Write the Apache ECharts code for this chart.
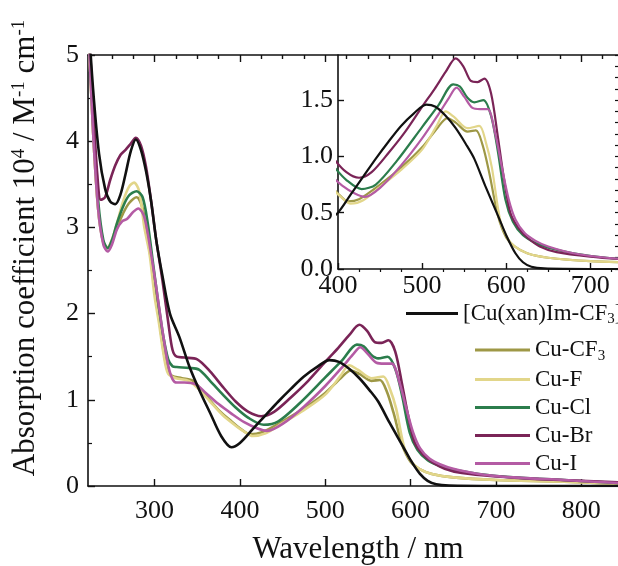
<!DOCTYPE html>
<html>
<head>
<meta charset="utf-8">
<script src="https://cdn.jsdelivr.net/npm/echarts@6/dist/echarts.min.js"></script>
<style>
  html, body { margin: 0; padding: 0; background: #fff; }
  #main { width: 618px; height: 566px; }
</style>
</head>
<body>
<div id="main"></div>
<script>
// wavelengths (nm) and absorption coefficients (10^4 M^-1 cm^-1)
var wlBlack = [222,228,235,242,248,254,260,266,272,278,284,290,296,302,309,318,329,341,353,365,378,390,400,415,430,445,460,475,490,505,516,528,540,552,562,575,591,600,611,620,630,645,700,850];
var abBlack = [5.5,4.6,3.85,3.45,3.3,3.27,3.38,3.62,3.88,4.02,3.9,3.65,3.3,2.85,2.45,2.0,1.73,1.38,1.1,0.85,0.58,0.45,0.5,0.66,0.82,0.98,1.13,1.27,1.38,1.46,1.44,1.36,1.25,1.11,0.98,0.74,0.46,0.3,0.14,0.06,0.02,0.005,0,0];

var wlCF3 = [222,228,234,240,245,250,256,263,270,279,286,292,298,304,310,315,320,332,345,360,375,390,400,412,425,450,475,500,518,530,540,554,564,572,580,590,600,610,625,650,700,780,850];
var abCF3 = [5.4,4.1,3.2,2.82,2.76,2.84,3.0,3.16,3.28,3.35,3.22,2.85,2.5,2.05,1.6,1.35,1.28,1.25,1.22,1.05,0.88,0.75,0.67,0.6,0.62,0.75,0.9,1.08,1.25,1.34,1.3,1.22,1.23,1.1,0.85,0.48,0.28,0.2,0.14,0.1,0.07,0.05,0.02];

var wlF = [222,228,234,240,245,250,256,263,270,276,282,288,294,300,305,311,316,325,340,352,365,380,395,405,415,430,450,475,500,518,528,538,554,568,576,583,593,602,610,625,650,700,780,850];
var abF = [5.4,4.1,3.2,2.82,2.77,2.86,3.05,3.3,3.47,3.52,3.42,3.0,2.7,2.2,1.9,1.5,1.3,1.25,1.22,1.12,0.98,0.82,0.7,0.63,0.58,0.61,0.73,0.88,1.06,1.28,1.4,1.35,1.25,1.27,1.12,0.9,0.43,0.27,0.2,0.14,0.1,0.07,0.05,0.02];

var wlCl = [222,228,234,240,245,250,256,263,270,279,286,292,298,304,310,316,321,326,340,352,365,380,395,410,428,445,470,500,520,537,545,554,562,573,582,590,599,608,620,635,650,680,720,780,850];
var abCl = [5.5,4.2,3.3,2.85,2.76,2.85,3.05,3.24,3.37,3.42,3.35,3.05,2.6,2.15,1.75,1.47,1.39,1.38,1.37,1.35,1.22,1.06,0.91,0.79,0.71,0.75,0.96,1.26,1.46,1.64,1.62,1.52,1.48,1.5,1.36,1.05,0.62,0.42,0.3,0.23,0.19,0.14,0.1,0.07,0.03];

var wlBr = [222,228,233,237,242,248,254,260,266,272,278,284,290,296,302,309,316,321,326,335,350,365,380,395,410,425,440,460,480,500,515,528,540,549,558,566,574,582,590,597,605,615,625,640,660,700,750,800,850];
var abBr = [5.5,4.4,3.6,3.32,3.35,3.55,3.72,3.84,3.9,3.97,4.04,3.95,3.7,3.3,2.85,2.4,1.9,1.58,1.5,1.49,1.47,1.33,1.15,0.98,0.86,0.81,0.86,1.03,1.22,1.44,1.6,1.75,1.87,1.8,1.67,1.66,1.69,1.56,1.18,0.82,0.5,0.36,0.28,0.2,0.15,0.11,0.08,0.06,0.04];

var wlI = [222,228,234,240,245,250,256,262,268,275,281,288,295,302,309,316,321,326,335,348,360,375,390,405,420,432,450,475,500,520,532,541,550,560,569,578,587,595,603,611,622,635,650,680,720,780,850];
var abI = [5.4,4.1,3.2,2.8,2.72,2.8,2.98,3.07,3.1,3.18,3.22,3.12,2.75,2.3,1.82,1.4,1.24,1.2,1.2,1.18,1.08,0.95,0.84,0.74,0.67,0.64,0.72,0.92,1.16,1.38,1.52,1.61,1.53,1.43,1.42,1.42,1.2,0.9,0.62,0.44,0.32,0.25,0.2,0.14,0.1,0.07,0.03];

var names = ['[Cu(xan)Im-CF3]+', 'Cu-CF3', 'Cu-F', 'Cu-Cl', 'Cu-Br', 'Cu-I'];
var colors = ['#111111', '#9e9846', '#e2d68a', '#2b7d4c', '#7a2457', '#b45ba4'];
var wls = [wlBlack, wlCF3, wlF, wlCl, wlBr, wlI];
var abs = [abBlack, abCF3, abF, abCl, abBr, abI];

var mainTicks = [300, 400, 500, 600, 700, 800];
var mainMinor = [225, 250, 275, 325, 350, 375, 425, 450, 475, 525, 550, 575, 625, 650, 675, 725, 750, 775, 825];
var insetTicks = [400, 500, 600, 700];
var insetMinor = [425, 450, 475, 525, 550, 575, 625, 650, 675, 725];
var insetYTicks = [0, 0.5, 1.0, 1.5];

var FONT = '"Liberation Serif", "DejaVu Serif", serif';

var chart = echarts.init(document.getElementById('main'));

function pairs(x, y) {
  return x.map(function (v, i) { return [v, y[i]]; });
}

var series = [];
// main panel
for (var i = 0; i < names.length; i++) {
  series.push({
    name: names[i], type: 'line', xAxisIndex: 0, yAxisIndex: 0,
    data: pairs(wls[i], abs[i]), smooth: 0.3, symbol: 'none', clip: true,
    lineStyle: { width: 2.6, color: colors[i] }, itemStyle: { color: colors[i] },
    z: i === 0 ? 3 : 2
  });
}
// inset
for (var j = 0; j < names.length; j++) {
  series.push({
    name: names[j], type: 'line', xAxisIndex: 4, yAxisIndex: 1,
    data: pairs(wls[j], abs[j]), smooth: 0.3, symbol: 'none', clip: true,
    lineStyle: { width: 2.2, color: colors[j] }, itemStyle: { color: colors[j] },
    z: j === 0 ? 3 : 2
  });
}

var axisLine = { show: true, lineStyle: { color: '#111', width: 1.6 } };
var lbl = { color: '#111', fontSize: 26, fontFamily: FONT };
var tickMaj = { color: '#111', width: 1.4 };
var tickMin = { color: '#111', width: 1.2 };
var rich = {
  a: { fontSize: 23, fontFamily: FONT, color: '#111' },
  s: { fontSize: 15, fontFamily: FONT, color: '#111', padding: [12, 0, 0, 0] },
  p: { fontSize: 15, fontFamily: FONT, color: '#111', padding: [0, 0, 10, 0] }
};

function legendFmt(name) {
  if (name === '[Cu(xan)Im-CF3]+') return '{a|[Cu(xan)Im-CF}{s|3}{a|]}{p|+}';
  if (name === 'Cu-CF3') return '{a|Cu-CF}{s|3}';
  return '{a|' + name + '}';
}

option = {
  backgroundColor: '#fff',
  animation: false,
  grid: [
    { left: 88, top: 55, right: 0, bottom: 80 },
    { left: 338, top: 55, right: 0, height: 214, show: true, backgroundColor: '#fff', borderWidth: 0 }
  ],
  xAxis: [
    { type: 'value', gridIndex: 0, min: 222, max: 843, axisLine: axisLine, splitLine: { show: false },
      axisTick: { inside: true, length: 7, customValues: mainTicks, lineStyle: tickMaj },
      axisLabel: Object.assign({ customValues: mainTicks, margin: 12 }, lbl) },
    { type: 'value', gridIndex: 0, min: 222, max: 843, axisLine: { show: false }, splitLine: { show: false },
      axisTick: { inside: true, length: 4, customValues: mainMinor, lineStyle: tickMin },
      axisLabel: { show: false } },
    { type: 'value', gridIndex: 0, position: 'top', min: 222, max: 843, axisLine: axisLine, splitLine: { show: false },
      axisTick: { inside: true, length: 7, customValues: mainTicks, lineStyle: tickMaj },
      axisLabel: { show: false } },
    { type: 'value', gridIndex: 0, position: 'top', min: 222, max: 843, axisLine: { show: false }, splitLine: { show: false },
      axisTick: { inside: true, length: 4, customValues: mainMinor, lineStyle: tickMin },
      axisLabel: { show: false } },
    { type: 'value', gridIndex: 1, min: 400, max: 733, axisLine: axisLine, splitLine: { show: false },
      axisTick: { inside: true, length: 6, customValues: insetTicks, lineStyle: tickMaj },
      axisLabel: Object.assign({ customValues: insetTicks, margin: 4 }, lbl) },
    { type: 'value', gridIndex: 1, min: 400, max: 733, axisLine: { show: false }, splitLine: { show: false },
      axisTick: { inside: true, length: 3, customValues: insetMinor, lineStyle: tickMin },
      axisLabel: { show: false } }
  ],
  yAxis: [
    { type: 'value', gridIndex: 0, min: 0, max: 5, interval: 1, axisLine: axisLine, splitLine: { show: false },
      axisTick: { inside: true, length: 7, lineStyle: tickMaj },
      minorTick: { show: true, splitNumber: 2, length: 4, lineStyle: tickMin },
      axisLabel: Object.assign({ margin: 9 }, lbl) },
    { type: 'value', gridIndex: 1, min: 0, max: 1.9, axisLine: axisLine, splitLine: { show: false },
      axisTick: { inside: true, length: 6, customValues: insetYTicks, lineStyle: tickMaj },
      axisLabel: Object.assign({ customValues: insetYTicks, margin: 5, formatter: function (v) { return v.toFixed(1); } }, lbl) },
    { type: 'value', gridIndex: 1, min: 0, max: 1.9, interval: 0.1, axisLine: { show: false }, splitLine: { show: false },
      axisTick: { inside: true, length: 3, lineStyle: tickMin },
      axisLabel: { show: false } }
  ],
  legend: [
    { data: [names[0]], left: 401, top: 296, orient: 'vertical', icon: 'rect', itemWidth: 52, itemHeight: 3,
      itemGap: 4, formatter: legendFmt, textStyle: { rich: rich, lineHeight: 24 }, selectedMode: false },
    { data: names.slice(1), left: 470, top: 333, orient: 'vertical', icon: 'rect', itemWidth: 55, itemHeight: 3,
      itemGap: 4, formatter: legendFmt, textStyle: { rich: rich, lineHeight: 24 }, selectedMode: false }
  ],
  graphic: [
    { type: 'text', x: 26, y: 248, rotation: Math.PI / 2,
      style: { text: '{t|Absorption coefficient 10}{u|4}{t| / M}{u|-1}{t| cm}{u|-1}', align: 'center', verticalAlign: 'middle',
        rich: {
          t: { fontSize: 31, fontFamily: FONT, fill: '#111', color: '#111' },
          u: { fontSize: 19, fontFamily: FONT, fill: '#111', color: '#111', padding: [0, 0, 13, 0] }
        } } },
    { type: 'text', x: 358, y: 550,
      style: { text: 'Wavelength / nm', fontSize: 31, fontFamily: FONT, fill: '#111', align: 'center', verticalAlign: 'middle' } }
  ],
  series: series
};

chart.setOption(option);
window.addEventListener('resize', chart.resize);
</script>
</body>
</html>
